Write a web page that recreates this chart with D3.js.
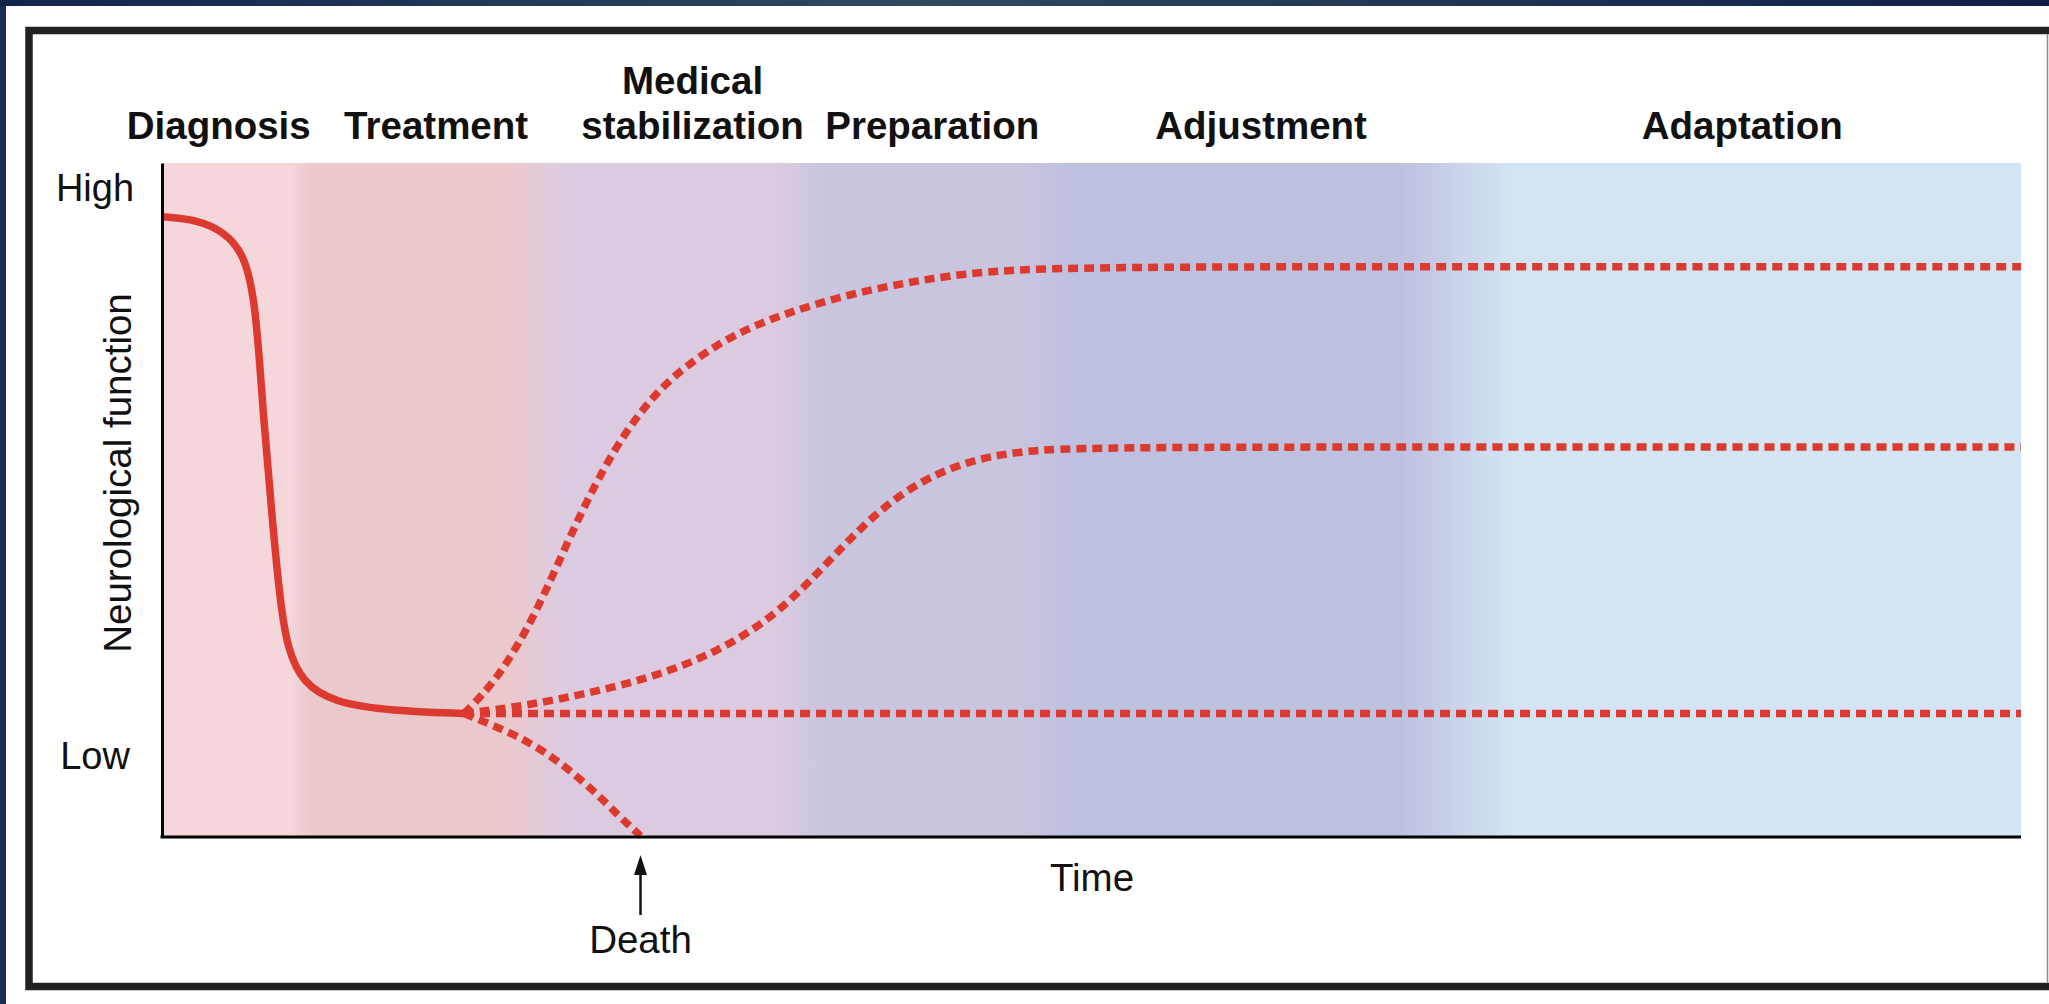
<!DOCTYPE html>
<html>
<head>
<meta charset="utf-8">
<script src="https://cdn.jsdelivr.net/npm/d3@7"></script>
<style>
  html, body { margin: 0; padding: 0; background: #16284c; }
  svg { display: block; }
  text { font-family: "Liberation Sans", Arial, Helvetica, sans-serif; fill: #111; }
</style>
</head>
<body>
<svg id="chart" width="2049" height="1004"></svg>
<script>
// time runs 0..100, neurological function 0 (axis) .. 100 (top of plot)
const phases = ["Diagnosis", "Treatment", "Medical\nstabilization", "Preparation", "Adjustment", "Adaptation"];
const phaseLabelT = [3.0, 14.7, 28.5, 41.4, 59.1, 85.0];

const levelLabels = ["High", "Low"];
const levelValues = [96.4, 12];

// background colour of each phase, soft blended at the edges
const bgT = [0, 6.8, 8.0, 18.5, 21.5, 33, 35.5, 46, 49, 66.5, 72.5, 100];
const bgColors = ["#f5d7db", "#f5d7db", "#ebc8cc", "#ebc8cc", "#dccbe0", "#dccbe0",
                  "#cac5de", "#cac5de", "#bec0e0", "#bec0e0", "#d3e4f2", "#d3e4f2"];

// solid course up to the branch point
const courseT = [0, 1.8, 3.3, 4.4, 5.0, 5.4, 5.9, 6.3, 6.7, 7.5, 9.2, 12.3, 16.2];
const courseV = [92, 91.6, 89.8, 86.4, 79.0, 62.1, 46.5, 34.9, 27.8, 22.8, 19.8, 18.6, 18.2];

// possible outcomes after the branch (dashed)
const goodT = [16.2, 18.0, 20.1, 22.2, 24.3, 26.4, 28.2, 30.6, 33.4, 36.9, 40.5, 44.0, 49.6, 75, 100];
const goodV = [18.2, 23.2, 33.0, 46.5, 57.8, 65.6, 70.0, 74.4, 77.6, 80.5, 82.5, 83.9, 84.6, 84.6, 84.6];

const partialT = [16.2, 19.4, 22.9, 26.4, 29.9, 33.0, 35.5, 37.6, 40.0, 43.0, 46.1, 49.6, 75, 100];
const partialV = [18.2, 19.3, 21.2, 23.6, 27.4, 32.8, 39.8, 46.0, 51.6, 55.6, 57.2, 57.8, 57.8, 57.8];

const stableT = [16.2, 100];
const stableV = [18.2, 18.2];

const deathT = [16.2, 19.4, 21.5, 23.2, 24.6, 25.7];
const deathV = [18.2, 14.6, 10.7, 6.7, 2.8, 0];

const W = 2049, H = 1004;
const svg = d3.select("#chart");
const defs = svg.append("defs");

const x = d3.scaleLinear().domain([0, 100]).range([163, 2021]);
const y = d3.scaleLinear().domain([0, 100]).range([836, 163]);

// frame: navy edge, white card, dark border
const topGrad = defs.append("linearGradient").attr("id", "topGrad");
topGrad.append("stop").attr("offset", "0%").attr("stop-color", "#13244b");
topGrad.append("stop").attr("offset", "45%").attr("stop-color", "#2e4a61");
topGrad.append("stop").attr("offset", "100%").attr("stop-color", "#111d45");

svg.append("rect").attr("width", W).attr("height", H).attr("fill", "#182d55");
svg.append("rect").attr("width", W).attr("height", 6).attr("fill", "url(#topGrad)");
svg.append("rect").attr("x", 6).attr("y", 6).attr("width", W - 6).attr("height", H - 6).attr("fill", "#fff");
svg.append("rect")
    .attr("x", 29).attr("y", 30.5)
    .attr("width", 2100).attr("height", 956)
    .attr("fill", "none")
    .attr("stroke", "#222")
    .attr("stroke-width", 7.5);
svg.append("line")
    .attr("x1", 2047.5).attr("x2", 2047.5).attr("y1", 34).attr("y2", 983)
    .attr("stroke", "#8a8a8a").attr("stroke-width", 1.5);

// phase background
const bg = defs.append("linearGradient").attr("id", "phaseGrad")
    .attr("gradientUnits", "userSpaceOnUse")
    .attr("x1", x(0)).attr("x2", x(100)).attr("y1", 0).attr("y2", 0);
bg.selectAll("stop")
    .data(bgT)
    .enter()
    .append("stop")
    .attr("offset", d => d / 100)
    .attr("stop-color", (d, i) => bgColors[i]);

svg.append("rect")
    .attr("x", x(0)).attr("y", y(100))
    .attr("width", x(100) - x(0)).attr("height", y(0) - y(100))
    .attr("fill", "url(#phaseGrad)");

// phase headings
const heads = svg.append("g")
    .attr("font-weight", "bold")
    .attr("font-size", 38.5)
    .attr("text-anchor", "middle");

phases.forEach((p, i) => {
    const lines = p.split("\n");
    const t = heads.append("text").attr("x", x(phaseLabelT[i]));
    lines.forEach((ln, j) => {
        t.append("tspan")
            .attr("x", x(phaseLabelT[i]))
            .attr("y", 138.5 - (lines.length - 1 - j) * 44.5)
            .text(ln);
    });
});

// curves
const line = d3.line()
    .x(d => x(d[0]))
    .y(d => y(d[1]))
    .curve(d3.curveBasis);

const red = "#dc3a2f";

const outcomes = [
    d3.zip(goodT, goodV),
    d3.zip(partialT, partialV),
    d3.zip(stableT, stableV),
    d3.zip(deathT, deathV)
];

svg.append("g")
    .selectAll("path")
    .data(outcomes)
    .enter()
    .append("path")
    .attr("d", line)
    .attr("fill", "none")
    .attr("stroke", red)
    .attr("stroke-width", 7.5)
    .attr("stroke-dasharray", "10 6");

svg.append("path")
    .datum(d3.zip(courseT, courseV))
    .attr("d", line)
    .attr("fill", "none")
    .attr("stroke", red)
    .attr("stroke-width", 7.5)
    .attr("stroke-linecap", "butt");

// axes
const yAxis = d3.axisLeft(y).tickValues(levelValues).tickSize(0).tickFormat((d, i) => levelLabels[i]);
const gy = svg.append("g").attr("transform", `translate(${x(0) - 1},0)`).call(yAxis);
gy.select(".domain").attr("stroke", "#000").attr("stroke-width", 3);
gy.selectAll(".tick text")
    .attr("x", -67)
    .attr("text-anchor", "middle")
    .attr("dy", "0.36em")
    .attr("font-size", 38)
    .attr("font-family", null)
    .attr("fill", "#111");

const xAxis = d3.axisBottom(x).tickValues([]).tickSizeOuter(0);
const gx = svg.append("g").attr("transform", `translate(0,${y(0) + 1})`).call(xAxis);
gx.select(".domain").attr("stroke", "#000").attr("stroke-width", 3)
    .attr("d", `M${x(0) - 2.5},0H${x(100)}`);

svg.append("text")
    .attr("transform", `translate(131,${473}) rotate(-90)`)
    .attr("text-anchor", "middle")
    .attr("font-size", 38.5)
    .text("Neurological function");

svg.append("text")
    .attr("x", x(50.0)).attr("y", 891)
    .attr("text-anchor", "middle")
    .attr("font-size", 38.5)
    .text("Time");

// death marker
const deathX = x(deathT[deathT.length - 1]);
svg.append("line")
    .attr("x1", deathX).attr("x2", deathX)
    .attr("y1", 872).attr("y2", 915)
    .attr("stroke", "#111").attr("stroke-width", 2.5);
svg.append("path")
    .attr("d", `M${deathX},855L${deathX - 6.5},875L${deathX + 6.5},875Z`)
    .attr("fill", "#111");
svg.append("text")
    .attr("x", deathX).attr("y", 953)
    .attr("text-anchor", "middle")
    .attr("font-size", 38.5)
    .text("Death");
</script>
</body>
</html>
